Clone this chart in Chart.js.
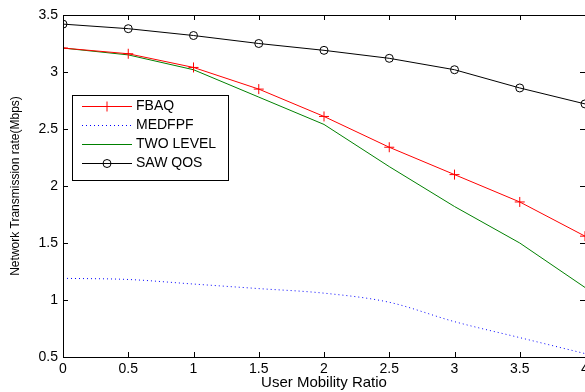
<!DOCTYPE html>
<html>
<head>
<meta charset="utf-8">
<script src="https://cdn.jsdelivr.net/npm/chart.js@4.4.1/dist/chart.umd.min.js"></script>
<style>
  html, body { margin: 0; padding: 0; background: #fff; }
  #wrap { width: 585px; height: 392px; }
</style>
</head>
<body>
<div id="wrap"><canvas id="chart"></canvas></div>
<script>
// Dados
var mobility = [0, 0.5, 1, 1.5, 2, 2.5, 3, 3.5, 4];
var fbaq = [3.21, 3.16, 3.04, 2.85, 2.61, 2.34, 2.10, 1.86, 1.56];
var medfpf = [1.19, 1.18, 1.14, 1.10, 1.06, 0.98, 0.81, 0.67, 0.53];
var twoLevel = [3.21, 3.15, 3.02, 2.78, 2.54, 2.17, 1.82, 1.50, 1.11];
var sawQos = [3.42, 3.38, 3.32, 3.25, 3.19, 3.12, 3.02, 2.86, 2.72];

var FONT = 'Arial, "Liberation Sans", sans-serif';

function toPoints(values) {
    return values.map((v, i) => ({ x: mobility[i], y: v }));
}

// Rótulos no estilo Matlab: 3 em vez de 3.0
function plainLabel(value) {
    return String(Math.round(value * 100) / 100);
}

// Plugin: caixa estilo Matlab, ticks para dentro e legenda dentro do gráfico
var matlabBox = {
    id: 'matlabBox',
    afterDatasetsDraw(chart) {
        var ctx = chart.ctx;
        var a = chart.chartArea;
        var xs = chart.scales.x, ys = chart.scales.y;
        ctx.save();
        ctx.strokeStyle = '#000';
        ctx.lineWidth = 1;
        ctx.strokeRect(a.left + 0.5, a.top + 0.5, a.right - a.left, a.bottom - a.top);
        ctx.beginPath();
        xs.ticks.forEach(t => {
            var px = Math.round(xs.getPixelForValue(t.value)) + 0.5;
            ctx.moveTo(px, a.bottom); ctx.lineTo(px, a.bottom - 5);
            ctx.moveTo(px, a.top); ctx.lineTo(px, a.top + 5);
        });
        ys.ticks.forEach(t => {
            var py = Math.round(ys.getPixelForValue(t.value)) + 0.5;
            ctx.moveTo(a.left, py); ctx.lineTo(a.left + 5, py);
            ctx.moveTo(a.right, py); ctx.lineTo(a.right - 5, py);
        });
        ctx.stroke();

        // Legenda
        var bx = 72, by = 95, bw = 156, bh = 85;
        ctx.fillStyle = '#fff';
        ctx.fillRect(bx, by, bw, bh);
        ctx.strokeRect(bx + 0.5, by + 0.5, bw, bh);
        ctx.font = '14px ' + FONT;
        ctx.textBaseline = 'middle';
        chart.data.datasets.forEach((ds, i) => {
            var y = by + 11 + i * 19 + 0.5;
            ctx.strokeStyle = ds.borderColor;
            ctx.setLineDash(ds.borderDash || []);
            ctx.beginPath();
            ctx.moveTo(bx + 10, y); ctx.lineTo(bx + 60, y);
            ctx.stroke();
            ctx.setLineDash([]);
            var cx = bx + 35;
            if (ds.pointStyle === 'cross') {
                ctx.beginPath();
                ctx.moveTo(cx - 5, y); ctx.lineTo(cx + 5, y);
                ctx.moveTo(cx, y - 5); ctx.lineTo(cx, y + 5);
                ctx.stroke();
            } else if (ds.pointStyle === 'circle' && ds.pointRadius > 0) {
                ctx.beginPath();
                ctx.arc(cx, y, 4, 0, Math.PI * 2);
                ctx.stroke();
            }
            ctx.fillStyle = '#000';
            ctx.fillText(ds.label, bx + 64, y);
        });
        ctx.restore();
    }
};

var chart = new Chart(document.getElementById('chart'), {
    type: 'line',
    data: {
        datasets: [{
            label: 'FBAQ',
            data: toPoints(fbaq),
            borderColor: '#ff0000',
            borderWidth: 1,
            pointStyle: 'cross',
            pointRadius: 5,
            pointBorderColor: '#ff0000',
            pointBorderWidth: 1,
            fill: false
        }, {
            label: 'MEDFPF',
            data: toPoints(medfpf),
            borderColor: '#0000ff',
            borderWidth: 1,
            borderDash: [1, 3],
            cubicInterpolationMode: 'monotone',
            pointRadius: 0,
            fill: false
        }, {
            label: 'TWO LEVEL',
            data: toPoints(twoLevel),
            borderColor: '#008000',
            borderWidth: 1,
            pointRadius: 0,
            fill: false
        }, {
            label: 'SAW QOS',
            data: toPoints(sawQos),
            borderColor: '#000000',
            borderWidth: 1,
            pointStyle: 'circle',
            pointRadius: 4,
            pointBackgroundColor: 'rgba(0,0,0,0)',
            pointBorderColor: '#000000',
            pointBorderWidth: 1,
            fill: false
        }]
    },
    options: {
        responsive: true,
        maintainAspectRatio: false,
        animation: false,
        events: [],
        layout: { autoPadding: false, padding: { top: 15, right: 0, bottom: 0, left: 0 } },
        plugins: { legend: { display: false }, tooltip: { enabled: false } },
        scales: {
            x: {
                type: 'linear',
                min: 0,
                max: 4,
                afterFit(scale) {
                    scale.height = 35;
                    scale.paddingLeft = 0;
                    scale.paddingRight = 0;
                },
                border: { display: false },
                grid: { drawOnChartArea: false, drawTicks: false },
                ticks: { stepSize: 0.5, autoSkip: false, maxRotation: 0, padding: 4, color: '#000', font: { family: FONT, size: 14 }, callback: plainLabel },
                title: { display: true, text: 'User Mobility Ratio', color: '#000', font: { family: FONT, size: 15 }, padding: { top: 0, bottom: 0 } }
            },
            y: {
                min: 0.5,
                max: 3.5,
                afterFit(scale) {
                    scale.width = 63;
                    scale.paddingTop = 0;
                    scale.paddingBottom = 0;
                },
                border: { display: false },
                grid: { drawOnChartArea: false, drawTicks: false },
                ticks: { stepSize: 0.5, autoSkip: false, padding: 5, color: '#000', font: { family: FONT, size: 14 }, callback: plainLabel },
                title: { display: true, text: 'Network Transmission rate(Mbps)', color: '#000', font: { family: FONT, size: 12 }, padding: { top: 8, bottom: 0 } }
            }
        }
    },
    plugins: [matlabBox]
});
</script>
</body>
</html>
